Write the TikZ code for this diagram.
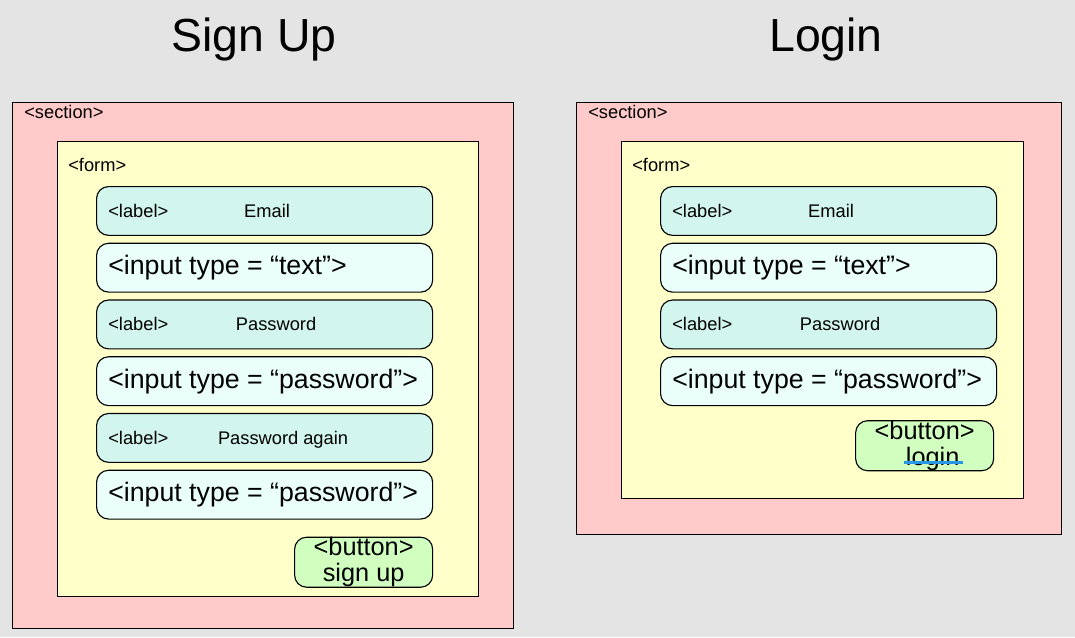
\documentclass[tikz,border=0pt]{standalone}
\usepackage{fontspec}
\setmainfont{Liberation Sans}
\usetikzlibrary{positioning}
\definecolor{bggray}{HTML}{E4E4E4}
\definecolor{sectionpink}{HTML}{FFCACA}
\definecolor{formyellow}{HTML}{FFFFC9}
\definecolor{labelteal}{HTML}{D2F6EE}
\definecolor{inputmint}{HTML}{EAFFFA}
\definecolor{buttongreen}{HTML}{D1FFC0}
\definecolor{squiggleblue}{HTML}{2A96E6}
\tikzset{
  box/.style={draw, line width=0.8pt, anchor=north west, inner sep=0pt},
  sectionbox/.style={box, fill=sectionpink},
  formbox/.style={box, fill=formyellow},
  row/.style={draw, line width=0.8pt, rounded corners=0.3cm, minimum width=8.4cm, minimum height=1.22cm, inner sep=0pt},
  labelrow/.style={row, fill=labelteal},
  inputrow/.style={row, fill=inputmint},
  buttonbox/.style={row, fill=buttongreen, minimum width=3.45cm, minimum height=1.25cm, align=center, font=\fontsize{18}{18.5}\selectfont},
  tag/.style={font=\fontsize{13}{15}\selectfont, inner sep=0pt},
  inputtext/.style={font=\fontsize{19}{22}\selectfont, inner sep=0pt, anchor=west},
  title/.style={font=\fontsize{33}{38}\selectfont, inner sep=0pt, anchor=base},
}

\begin{document}
\begin{tikzpicture}[x=0.025cm, y=-0.025cm]
    \fill[bggray] (0,0) rectangle (1075,637);

    % sign up
    \node[title] (su-title) at (254,52) {Sign Up};
    \node[sectionbox, minimum width=12.525cm, minimum height=13.15cm] (su-section) at (12,102) {};
    \node[tag, anchor=west] (su-sectiontag) at ([xshift=0.3cm,yshift=-0.25cm]su-section.north west) {<section>};
    \node[formbox, minimum width=10.525cm, minimum height=11.375cm] (su-form) at (57,141) {};
    \node[tag, anchor=west] (su-formtag) at ([xshift=0.275cm,yshift=-0.6cm]su-form.north west) {<form>};

    \node[labelrow, anchor=north west] (su-email) at (96,186) {};
    \node[inputrow, below=0.17cm of su-email] (su-in1) {};
    \node[labelrow, below=0.17cm of su-in1] (su-pass) {};
    \node[inputrow, below=0.17cm of su-pass] (su-in2) {};
    \node[labelrow, below=0.17cm of su-in2] (su-again) {};
    \node[inputrow, below=0.17cm of su-again] (su-in3) {};

    \node[tag, anchor=west] (su-emailtag) at ([xshift=0.3cm]su-email.west) {<label>};
    \node[tag, anchor=base] at ([xshift=4.275cm]su-email.west |- su-emailtag.base) {Email};
    \node[inputtext] at ([xshift=0.3cm]su-in1.west) {<input type = “text”>};
    \node[tag, anchor=west] (su-passtag) at ([xshift=0.3cm]su-pass.west) {<label>};
    \node[tag, anchor=base] at ([xshift=4.5cm]su-pass.west |- su-passtag.base) {Password};
    \node[inputtext] at ([xshift=0.3cm]su-in2.west) {<input type = “password”>};
    \node[tag, anchor=west] (su-againtag) at ([xshift=0.3cm]su-again.west) {<label>};
    \node[tag, anchor=base] at ([xshift=4.675cm]su-again.west |- su-againtag.base) {Password again};
    \node[inputtext] at ([xshift=0.3cm]su-in3.west) {<input type = “password”>};

    \node[buttonbox, below=0.425cm of su-in3.south east, anchor=north east] (su-btn) {<button>\\sign up};

    % login
    \node[title] (lg-title) at (826,52) {Login};
    \node[sectionbox, minimum width=12.125cm, minimum height=10.8cm] (lg-section) at (576,102) {};
    \node[tag, anchor=west] (lg-sectiontag) at ([xshift=0.3cm,yshift=-0.25cm]lg-section.north west) {<section>};
    \node[formbox, minimum width=10.05cm, minimum height=8.925cm] (lg-form) at (621,141) {};
    \node[tag, anchor=west] (lg-formtag) at ([xshift=0.275cm,yshift=-0.6cm]lg-form.north west) {<form>};

    \node[labelrow, anchor=north west] (lg-email) at (660,186) {};
    \node[inputrow, below=0.17cm of lg-email] (lg-in1) {};
    \node[labelrow, below=0.17cm of lg-in1] (lg-pass) {};
    \node[inputrow, below=0.17cm of lg-pass] (lg-in2) {};

    \node[tag, anchor=west] (lg-emailtag) at ([xshift=0.3cm]lg-email.west) {<label>};
    \node[tag, anchor=base] at ([xshift=4.275cm]lg-email.west |- lg-emailtag.base) {Email};
    \node[inputtext] at ([xshift=0.3cm]lg-in1.west) {<input type = “text”>};
    \node[tag, anchor=west] (lg-passtag) at ([xshift=0.3cm]lg-pass.west) {<label>};
    \node[tag, anchor=base] at ([xshift=4.5cm]lg-pass.west |- lg-passtag.base) {Password};
    \node[inputtext] at ([xshift=0.3cm]lg-in2.west) {<input type = “password”>};

    \node[buttonbox, below=0.35cm of lg-in2.south east, xshift=-0.075cm, anchor=north east] (lg-btn) {<button>\\\hspace*{0.4cm}login};
    \draw[squiggleblue, line width=2pt] ([xshift=-0.525cm,yshift=0.225cm]lg-btn.south) -- ([xshift=0.95cm,yshift=0.225cm]lg-btn.south);
\end{tikzpicture}
\end{document}
